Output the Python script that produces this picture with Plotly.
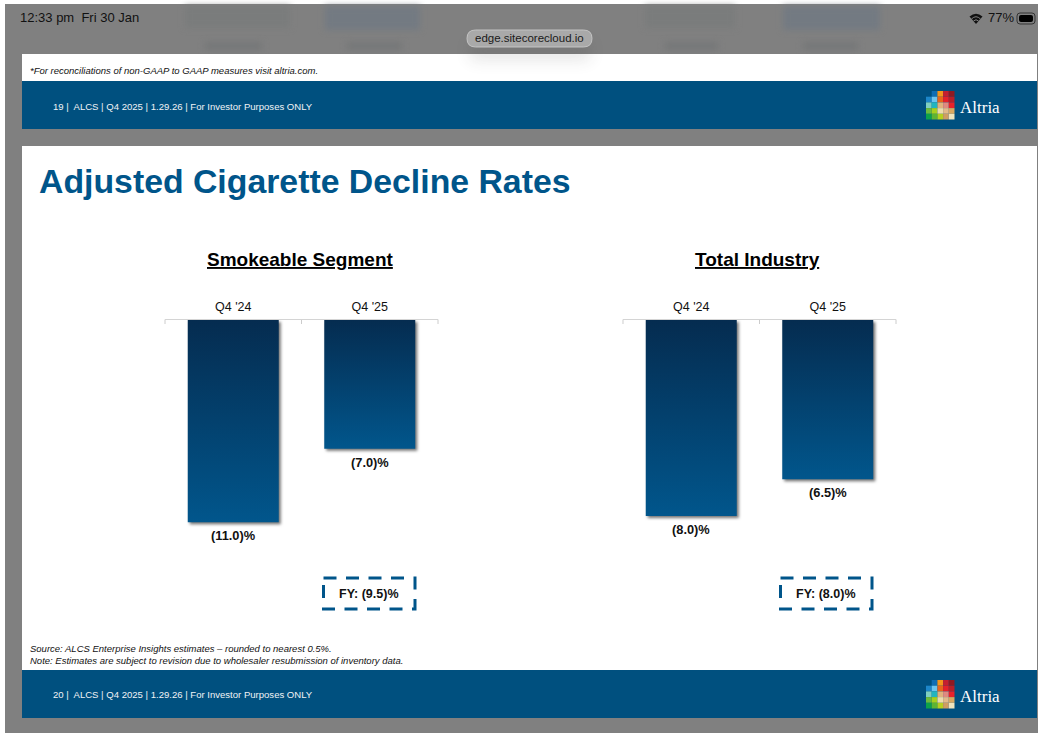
import plotly.graph_objects as go

W, H = 1038, 733
categories = ["Q4 '24", "Q4 '25"]
smokeable_values = [-11.0, -7.0]
industry_values = [-8.0, -6.5]
panel_titles = ["Smokeable Segment", "Total Industry"]
fy_labels = ["FY: (9.5)%", "FY: (8.0)%"]

BLUE = "#00507f"
TITLE_BLUE = "#00558a"
GRAY = "#808080"

LOGO = [
    [None, "#0f6db3", "#f3941c", "#c41e2f", "#8f1a22"],
    ["#1d86c9", "#6cc4ee", "#e8641b", "#e5202a", "#b71f28"],
    ["#7fcfc0", "#22b5bf", "#e0b27c", "#df8a80", "#e8222a"],
    ["#6cbb3c", "#a8cf1e", "#ecdcae", "#e2b98a", "#d9a860"],
    ["#0ca24a", "#5eb433", "#b6d020", "#cf9e62", "#f0e4bd"],
]


def px(x):
    return x / W


def py(y):
    return 1 - y / H


def rect(x0, y0, x1, y1, fill, line=None, width=0, dash=None, opacity=1):
    return dict(type="rect", xref="paper", yref="paper", x0=px(x0), x1=px(x1), y0=py(y0), y1=py(y1),
                fillcolor=fill, opacity=opacity, layer="below",
                line=dict(color=line or "rgba(0,0,0,0)", width=width, dash=dash))


def path(points, fill="rgba(0,0,0,0)", line=None, width=0):
    out = []
    for p in points:
        if isinstance(p, str):
            out.append(p)
        else:
            out.append(f"{px(p[0]):.5f} {py(p[1]):.5f}")
    return dict(type="path", xref="paper", yref="paper", path=" ".join(out), fillcolor=fill,
                layer="below", line=dict(color=line or "rgba(0,0,0,0)", width=width))


def pill(x0, y0, x1, y1, r, fill, line=None, width=0):
    return path(["M", (x0 + r, y0), "L", (x1 - r, y0), "Q", (x1, y0), (x1, y0 + r), "L", (x1, y1 - r),
                 "Q", (x1, y1), (x1 - r, y1), "L", (x0 + r, y1), "Q", (x0, y1), (x0, y1 - r),
                 "L", (x0, y0 + r), "Q", (x0, y0), (x0 + r, y0), "Z"], fill, line, width)


def label(x, y, text, size, color="#000000", family="Liberation Sans", anchor="left", **font):
    return dict(xref="paper", yref="paper", x=px(x), y=py(y), text=text, showarrow=False,
                xanchor=anchor, yanchor="middle", align=anchor, borderpad=0,
                font=dict(size=size, color=color, family=family, **font))


shapes = [
    rect(5, 4, W, H, GRAY),
    rect(185, 6, 290, 28, "#7a7c7c"),
    rect(325, 6, 420, 30, "#737a82"),
    rect(645, 6, 735, 28, "#7a7c7c"),
    rect(783, 6, 880, 30, "#737a82"),
    rect(205, 42, 262, 50, "#757778"),
    rect(347, 42, 402, 50, "#757778"),
    rect(665, 42, 718, 50, "#757778"),
    rect(803, 42, 858, 50, "#757778"),
    rect(22, 54, 1037, 81, "#ffffff"),
    rect(22, 81, 1037, 129, BLUE),
    rect(22, 146, 1037, 670, "#ffffff"),
    rect(22, 670, 1037, 718, BLUE),
    rect(470, 42, 590, 60, "#303030", opacity=0.12),
    pill(467, 30, 592, 47, 8.5, "#a9a9a9", "#c4c4c4", 1),
    path(["M", (969.5, 16.5), "Q", (976, 11), (982.5, 16.5), "L", (976, 24), "Z"], "#111111"),
    path(["M", (971.5, 19), "Q", (976, 14.5), (980.5, 19)], line=GRAY, width=1),
    path(["M", (973.5, 21), "Q", (976, 18.5), (978.5, 21)], line=GRAY, width=1),
    pill(1017, 13, 1035, 24, 3, "rgba(0,0,0,0)", "#333333", 1),
    pill(1019, 15, 1033, 22, 2, "#000000"),
    rect(323.5, 578, 415, 609, "rgba(0,0,0,0)", TITLE_BLUE, 3, "13px,9.5px"),
    rect(780.5, 578, 872, 609, "rgba(0,0,0,0)", TITLE_BLUE, 3, "13px,9.5px"),
]

for xe in (165, 438, 623, 896):
    shapes.append(path(["M", (xe, 319.5), "L", (xe, 324)], line="#cccccc", width=1))

for top in (91, 680):
    for r, row in enumerate(LOGO):
        for c, colour in enumerate(row):
            if colour:
                shapes.append(rect(926 + c * 5.7, top + r * 5.7, 926 + (c + 1) * 5.7, top + (r + 1) * 5.7, colour))

annotations = [
    label(18.5, 18, "12:33 pm  Fri 30 Jan", 13, "#111111"),
    label(986.5, 18, "77%", 13, "#111111"),
    label(529.5, 38.5, "edge.sitecorecloud.io", 11.5, "#1a1a1a", anchor="center"),
    label(29, 71, "<i>*For reconciliations of non-GAAP to GAAP measures visit altria.com.</i>", 9.5, "#111111"),
    label(52, 106, "19 |  ALCS | Q4 2025 | 1.29.26 | For Investor Purposes ONLY", 9.55, "#f0f3f6"),
    label(52, 694, "20 |  ALCS | Q4 2025 | 1.29.26 | For Investor Purposes ONLY", 9.55, "#f0f3f6"),
    label(959, 107.5, "Altria", 17, "#ffffff", "Liberation Serif"),
    label(959, 696.5, "Altria", 17, "#ffffff", "Liberation Serif"),
    label(37.5, 180.5, "<b>Adjusted Cigarette Decline Rates</b>", 33.8, TITLE_BLUE),
    label(300.5, 259.5, "<b>" + panel_titles[0] + "</b>", 19, "#000000", anchor="center", lineposition="under"),
    label(757, 259.5, "<b>" + panel_titles[1] + "</b>", 19, "#000000", anchor="center", lineposition="under"),
    label(369, 594, "<b>" + fy_labels[0] + "</b>", 12.5, "#111111", anchor="center"),
    label(826, 594, "<b>" + fy_labels[1] + "</b>", 12.5, "#111111", anchor="center"),
    label(29, 648, "<i>Source: ALCS Enterprise Insights estimates – rounded to nearest 0.5%.</i>", 9.5, "#111111"),
    label(29, 660, "<i>Note: Estimates are subject to revision due to wholesaler resubmission of inventory data.</i>", 9.5, "#111111"),
]


def as_label(v):
    return f"<b>({abs(v):.1f})%</b>"


fig = go.Figure()
for i, vals in enumerate((smokeable_values, industry_values)):
    suffix = "" if i == 0 else "2"
    fig.add_trace(go.Bar(
        x=categories, y=vals, xaxis="x" + suffix, yaxis="y" + suffix,
        marker=dict(color="#00406e", line=dict(width=0)),
        cliponaxis=False, showlegend=False, hoverinfo="skip",
    ))
    for cat, v in zip(categories, vals):
        annotations.append(dict(xref="x" + suffix, yref="y" + suffix, x=cat, y=v, text=as_label(v),
                                showarrow=False, xanchor="center", yanchor="top", yshift=-5, borderpad=0,
                                font=dict(family="Liberation Sans", size=12.8, color="#111111")))

axis_x = dict(type="category", side="top", showline=True, linecolor="#d4d4d4", linewidth=1,
              ticks="inside", ticklen=4, tickcolor="#cccccc", tickwidth=1, tickson="boundaries", showgrid=False,
              zeroline=False, ticklabelstandoff=3, fixedrange=True,
              tickfont=dict(family="Liberation Sans", size=12.5, color="#111111"))
axis_y = dict(visible=False, showgrid=False, zeroline=False, fixedrange=True)

fig.update_layout(
    width=W, height=H, autosize=False,
    margin=dict(l=0, r=0, t=0, b=0), paper_bgcolor="#ffffff", plot_bgcolor="rgba(0,0,0,0)",
    bargap=1 / 3, shapes=shapes, annotations=annotations, showlegend=False,
    xaxis=dict(axis_x, domain=[px(165), px(438)], anchor="y"),
    yaxis=dict(axis_y, domain=[py(614), py(320)], range=[-16, 0], anchor="x"),
    xaxis2=dict(axis_x, domain=[px(623), px(896)], anchor="y2"),
    yaxis2=dict(axis_y, domain=[py(614), py(320)], range=[-12, 0], anchor="x2"),
)

post = """
document.documentElement.style.margin = '0';
document.body.style.margin = '0';
document.body.style.overflow = 'hidden';
var gd = document.getElementById('{plot_id}');
var NS = 'http://www.w3.org/2000/svg';
var svg = gd.querySelector('.main-svg');
var defs = svg.querySelector('defs') || svg.insertBefore(document.createElementNS(NS,'defs'), svg.firstChild);
var g = document.createElementNS(NS,'linearGradient');
g.setAttribute('id','barGrad'); g.setAttribute('x1','0'); g.setAttribute('y1','0'); g.setAttribute('x2','0'); g.setAttribute('y2','1');
[['0','#052c50'],['1','#01568c']].forEach(function(s){
  var st = document.createElementNS(NS,'stop'); st.setAttribute('offset',s[0]); st.setAttribute('stop-color',s[1]); g.appendChild(st);
});
defs.appendChild(g);
gd.querySelectorAll('.bars .point path').forEach(function(p){
  p.style.setProperty('fill','url(#barGrad)');
  p.style.setProperty('filter','drop-shadow(2px 2px 1.5px rgba(0,0,0,0.55))');
});
gd.querySelectorAll('.shapelayer path').forEach(function(p){
  var f = p.style.fill;
  if (f === 'rgb(122, 124, 124)' || f === 'rgb(115, 122, 130)' || f === 'rgb(117, 119, 120)') p.style.setProperty('filter','blur(3px)');
  if (f === 'rgb(48, 48, 48)') p.style.setProperty('filter','blur(8px)');
});
"""
fig.write_html("out.html", post_script=post, config={"displayModeBar": False})
